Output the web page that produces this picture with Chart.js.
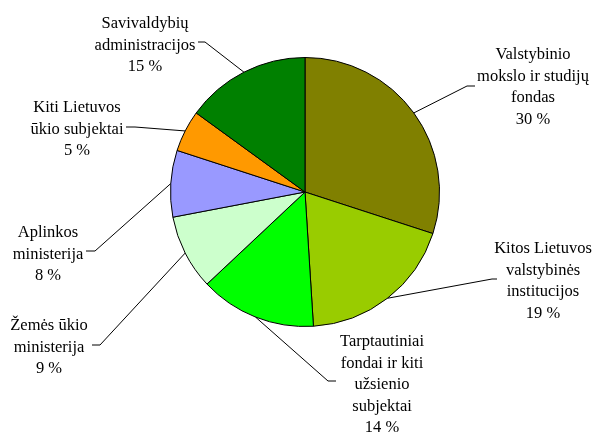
<!DOCTYPE html>
<html>
<head>
<meta charset="utf-8">
<script src="https://cdn.jsdelivr.net/npm/chart.js@4/dist/chart.umd.min.js"></script>
<style>
  html, body { margin: 0; padding: 0; background: #fff; }
</style>
</head>
<body>
<canvas id="pyragas" width="595" height="432"></canvas>
<script>
// kategorijos (eilutėmis, kaip etiketėse)
const kategorijos = [
    ["Valstybinio", "mokslo ir studijų", "fondas"],
    ["Kitos Lietuvos", "valstybinės", "institucijos"],
    ["Tarptautiniai", "fondai ir kiti", "užsienio", "subjektai"],
    ["Žemės ūkio", "ministerija"],
    ["Aplinkos", "ministerija"],
    ["Kiti Lietuvos", "ūkio subjektai"],
    ["Savivaldybių", "administracijos"]
];
const procentai = [30, 19, 14, 9, 8, 5, 15];
const spalvos = ["#808000", "#99CC00", "#00FF00", "#CCFFCC", "#9999FF", "#FF9900", "#008000"];

// etikečių vietos: centras x, pirmos eilutės baseline, lūžio taškas, galas
const etiketes = [
    { cx: 533, y: 59,  lauz: [467, 86],  galas: [475, 86] },
    { cx: 543, y: 253, lauz: [492, 279], galas: [497, 279] },
    { cx: 382, y: 346, lauz: [328, 381], galas: [336, 381] },
    { cx: 49,  y: 330, lauz: [100, 345], galas: [92, 345] },
    { cx: 48,  y: 237, lauz: [95, 251],  galas: [86, 251] },
    { cx: 77,  y: 112, lauz: [135, 127], galas: [126, 127] },
    { cx: 145, y: 28,  lauz: [205, 42],  galas: [198, 42] }
];

const eilutesAukstis = 21.5;

const etikeciuPlugin = {
    id: 'etiketes',
    afterDraw(chart) {
        const ctx = chart.ctx;
        const arcs = chart.getDatasetMeta(0).data;
        ctx.save();
        ctx.strokeStyle = '#000';
        ctx.lineWidth = 1;
        ctx.fillStyle = '#000';
        ctx.font = '16.5px "Liberation Serif", "Times New Roman", serif';
        ctx.textAlign = 'center';
        ctx.textBaseline = 'alphabetic';
        arcs.forEach(function(arc, i) {
            const p = arc.getProps(['x', 'y', 'startAngle', 'endAngle', 'outerRadius'], true);
            const kampas = (p.startAngle + p.endAngle) / 2;
            const sx = p.x + Math.cos(kampas) * p.outerRadius;
            const sy = p.y + Math.sin(kampas) * p.outerRadius;
            const e = etiketes[i];
            ctx.beginPath();
            ctx.moveTo(sx, sy);
            ctx.lineTo(e.lauz[0], e.lauz[1]);
            ctx.lineTo(e.galas[0], e.galas[1]);
            ctx.stroke();
            const eilutes = kategorijos[i].concat([procentai[i] + ' %']);
            eilutes.forEach(function(t, j) {
                ctx.fillText(t, e.cx, e.y + j * eilutesAukstis);
            });
        });
        ctx.restore();
    }
};

const ctx = document.getElementById('pyragas').getContext('2d');
new Chart(ctx, {
    type: 'pie',
    data: {
        labels: kategorijos.map(k => k.join(' ')),
        datasets: [{
            data: procentai,
            backgroundColor: spalvos,
            borderColor: '#000',
            borderWidth: 1
        }]
    },
    options: {
        responsive: false,
        animation: false,
        layout: { padding: { left: 170, right: 155, top: 57, bottom: 105 } },
        plugins: {
            legend: { display: false },
            tooltip: { enabled: false }
        }
    },
    plugins: [etikeciuPlugin]
});
</script>
</body>
</html>
